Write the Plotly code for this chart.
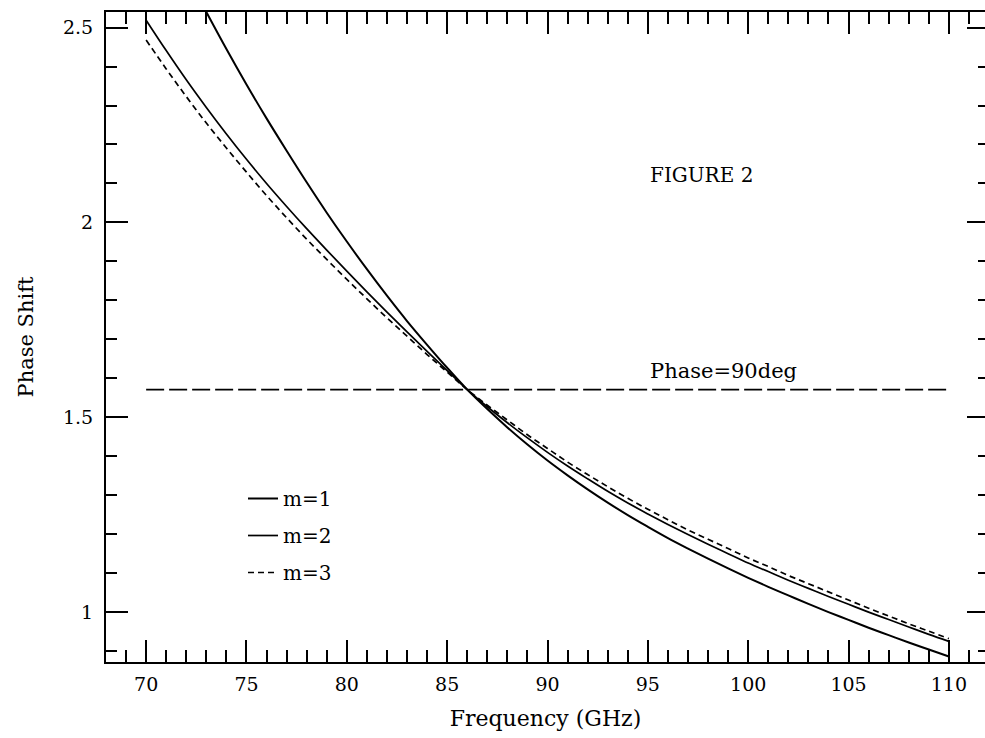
import plotly.graph_objects as go

# Frequencies (GHz)
freq_m1 = list(range(73, 111))
freq = list(range(70, 111))

# Phase shift (rad) for the three modes
phase_m1 = [2.540, 2.445, 2.354, 2.267, 2.184, 2.103, 2.025, 1.951, 1.880, 1.812,
            1.747, 1.686, 1.627, 1.571, 1.521, 1.474, 1.430, 1.389, 1.351, 1.315,
            1.281, 1.249, 1.219, 1.190, 1.163, 1.137, 1.112, 1.088, 1.065, 1.043,
            1.021, 1.000, 0.980, 0.960, 0.941, 0.922, 0.904, 0.886]
phase_m2 = [2.519, 2.441, 2.366, 2.295, 2.227, 2.162, 2.100, 2.041, 1.984, 1.929,
            1.875, 1.822, 1.770, 1.719, 1.669, 1.620, 1.571, 1.527, 1.486, 1.447,
            1.410, 1.375, 1.342, 1.310, 1.280, 1.252, 1.225, 1.199, 1.174, 1.150,
            1.126, 1.104, 1.082, 1.061, 1.040, 1.020, 1.000, 0.981, 0.962, 0.943,
            0.925]
phase_m3 = [2.468, 2.394, 2.323, 2.255, 2.191, 2.129, 2.069, 2.012, 1.957, 1.905,
            1.854, 1.804, 1.755, 1.708, 1.661, 1.616, 1.571, 1.531, 1.493, 1.455,
            1.420, 1.385, 1.353, 1.322, 1.292, 1.264, 1.237, 1.211, 1.187, 1.163,
            1.139, 1.117, 1.094, 1.073, 1.052, 1.031, 1.010, 0.990, 0.970, 0.951,
            0.932]

# 90 degree reference level
ref_freq = [70, 110]
ref_phase = [1.5708, 1.5708]

FONT = "DejaVu Serif"
X_RANGE = [68, 111.8]
Y_RANGE = [0.872, 2.54]

fig = go.Figure()
fig.add_trace(go.Scatter(x=freq_m1, y=phase_m1, mode="lines", name="m=1",
                         line=dict(color="black", width=2, shape="spline"),
                         legendgroup="a"))
fig.add_trace(go.Scatter(x=freq, y=phase_m2, mode="lines", name="m=2",
                         line=dict(color="black", width=1.7, shape="spline"),
                         legendgroup="b"))
fig.add_trace(go.Scatter(x=freq, y=phase_m3, mode="lines", name="m=3",
                         line=dict(color="black", width=1.7, dash="6px,4px", shape="spline"),
                         legendgroup="c"))
fig.add_trace(go.Scatter(x=ref_freq, y=ref_phase, mode="lines", showlegend=False,
                         line=dict(color="black", width=1.7, dash="18px,5px")))
# invisible trace carrying the right-hand tick axis
fig.add_trace(go.Scatter(x=ref_freq, y=ref_phase, yaxis="y2", mode="lines",
                         showlegend=False, hoverinfo="skip",
                         line=dict(color="rgba(0,0,0,0)", width=0)))

fig.add_annotation(x=95.0, y=2.122, xref="x", yref="y", text="FIGURE 2",
                   showarrow=False, xanchor="left", yanchor="middle",
                   font=dict(family=FONT, size=20, color="black"))
fig.add_annotation(x=95.0, y=1.619, xref="x", yref="y", text="Phase=90deg",
                   showarrow=False, xanchor="left", yanchor="middle",
                   font=dict(family=FONT, size=21, color="black"))

axis_common = dict(showgrid=False, zeroline=False, color="black",
                   linecolor="black", linewidth=2, ticks="inside",
                   tickwidth=2, tickcolor="black",
                   tickfont=dict(family=FONT, size=19, color="black"))

fig.update_layout(
    width=985, height=738,
    margin=dict(l=106, r=0, t=12, b=76),
    paper_bgcolor="white", plot_bgcolor="white",
    font=dict(family=FONT, color="black"),
    xaxis=dict(axis_common, range=X_RANGE, dtick=5, tick0=0, ticklen=22,
               showline=True, mirror="ticks", ticklabelstandoff=4,
               minor=dict(dtick=1, ticklen=12, ticks="inside", tickwidth=2,
                          tickcolor="black"),
               title=dict(text="Frequency (GHz)", standoff=17,
                          font=dict(family=FONT, size=22, color="black"))),
    yaxis=dict(axis_common, range=Y_RANGE, dtick=0.5, tick0=0, ticklen=22,
               showline=True, mirror=False, ticklabelstandoff=7,
               minor=dict(dtick=0.1, ticklen=11, ticks="inside", tickwidth=2,
                          tickcolor="black"),
               title=dict(text="Phase Shift", standoff=24,
                          font=dict(family=FONT, size=21, color="black"))),
    yaxis2=dict(range=Y_RANGE, overlaying="y", side="right", anchor="x",
                showgrid=False, zeroline=False, showline=False,
                showticklabels=False, ticks="inside", ticklen=18, tickwidth=2,
                tickcolor="black", dtick=0.5, tick0=0,
                minor=dict(dtick=0.1, ticklen=7, ticks="inside", tickwidth=2,
                           tickcolor="black")),
    legend=dict(x=(243 - 106) / 879, y=(662 - 479) / 650, xanchor="left",
                yanchor="top", bgcolor="rgba(0,0,0,0)", tracegroupgap=8,
                traceorder="grouped",
                font=dict(family=FONT, size=20, color="black")),
    showlegend=True,
)

fig.write_html("out.html")
